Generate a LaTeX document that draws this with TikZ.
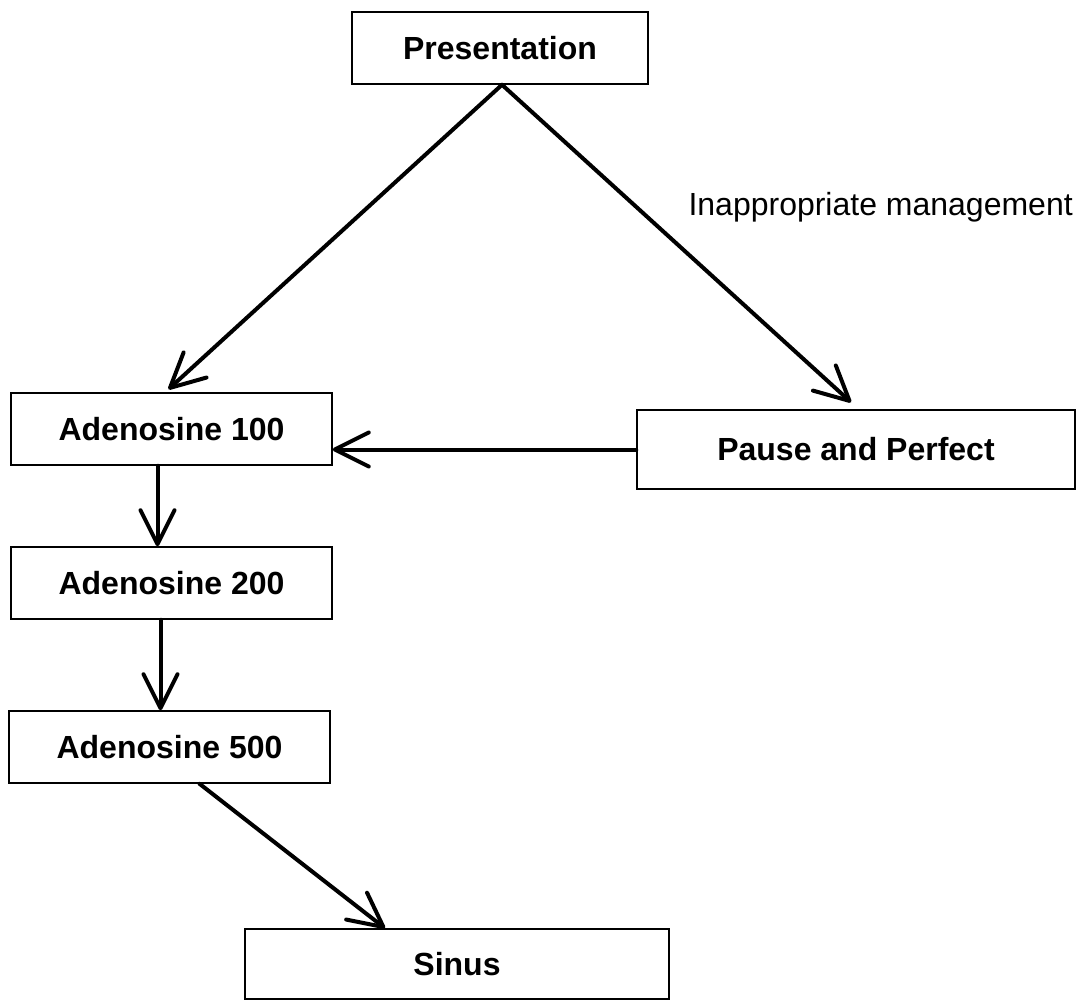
\documentclass[tikz,border=0pt]{standalone}
\usepackage{fontspec}
\setmainfont{Liberation Sans}
\usetikzlibrary{arrows.meta}

\begin{document}
\begin{tikzpicture}[
            x=1pt, y=-1pt,
            box/.style={draw, line width=1.5pt, inner sep=0pt, minimum height=72pt,
                font=\bfseries\fontsize{32}{38}\selectfont},
            flow/.style={-{Straight Barb[length=34pt, width=34pt, round]}, line width=4pt, line cap=round}
        ]
            \useasboundingbox (0,0) rectangle (1077,1001);

            \node[box, minimum width=296pt] (pres) at (500,48) {Presentation};
            \node[box, minimum width=321pt] (ad100) at (171.5,429) {Adenosine 100};
            \node[box, minimum width=438pt, minimum height=79pt] (pause) at (856,449.5) {Pause and Perfect};
            \node[box, minimum width=321pt] (ad200) at (171.5,583) {Adenosine 200};
            \node[box, minimum width=321pt] (ad500) at (169.5,747) {Adenosine 500};
            \node[box, minimum width=424pt, minimum height=70pt] (sinus) at (457,964) {Sinus};

            \node[anchor=base west, font=\fontsize{32}{38}\selectfont] (lbl) at (685,215) {Inappropriate management};

            \draw[flow] ([xshift=2pt]pres.south) -- ([xshift=-3pt, yshift=3pt]ad100.north);
            \draw[flow] ([xshift=2pt]pres.south) -- ([xshift=-5pt, yshift=7pt]pause.north);
            \draw[flow] (pause.west) -- (pause.west -| ad100.east);
            \draw[flow] ([xshift=-14pt]ad100.south) -- ([xshift=-14pt]ad100.south |- ad200.north);
            \draw[flow] ([xshift=-11pt]ad200.south) -- ([xshift=-11pt]ad200.south |- ad500.north);
            \draw[flow] ([xshift=30pt]ad500.south) -- ([xshift=-72pt]sinus.north);
        \end{tikzpicture}
\end{document}
